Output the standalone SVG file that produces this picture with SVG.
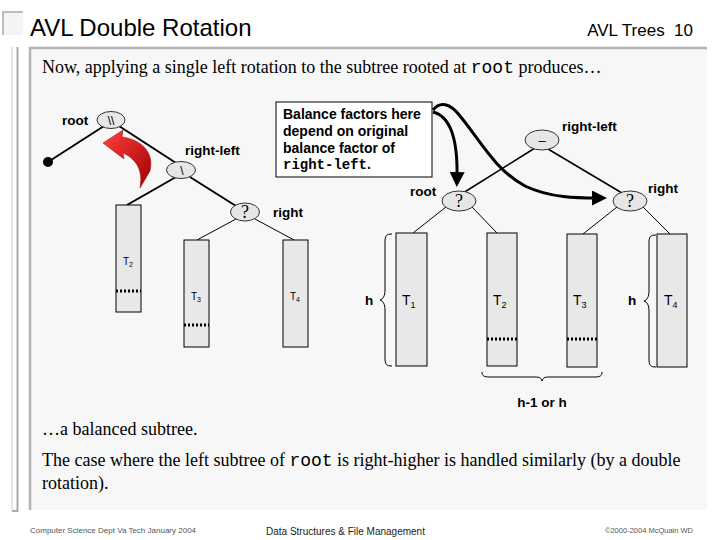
<svg xmlns="http://www.w3.org/2000/svg" width="720" height="540" viewBox="0 0 720 540">
<defs>
<style>
.lbl{font-family:"Liberation Sans",Arial,sans-serif;font-weight:bold;font-size:13.5px;fill:#000}
.call{font-family:"Liberation Sans",Arial,sans-serif;font-weight:bold;font-size:14px;fill:#000}
.serif{font-family:"Liberation Serif","Times New Roman",serif;font-size:18px;fill:#000}
.mono{font-family:"Liberation Mono","Courier New",monospace}
.node{fill:#e6e6e6;stroke:#333;stroke-width:1}
.sub{fill:#e8e8e8;stroke:#000;stroke-width:1}
.edge{stroke:#000;fill:none}
.dot{stroke:#000;stroke-width:3;stroke-dasharray:2,2}
.tl{font-family:"Liberation Sans",Arial,sans-serif;fill:#000}
.brace{stroke:#000;stroke-width:1;fill:none}
.foot{font-family:"Liberation Sans",Arial,sans-serif;fill:#555}
</style>
<marker id="ah" markerWidth="5" markerHeight="5" refX="2" refY="2.5" orient="auto" markerUnits="strokeWidth">
<path d="M0,0 L5,2.5 L0,5 Z" fill="#000"/>
</marker>
<linearGradient id="rg" x1="0" y1="0" x2="1" y2="1">
<stop offset="0" stop-color="#ff4040"/>
<stop offset="1" stop-color="#a00000"/>
</linearGradient>
</defs>
<rect width="720" height="540" fill="#fff"/>
<g id="frame">
<path d="M3,35 V12 H23" fill="none" stroke="#aaa" stroke-width="1.5"/>
<rect x="4" y="13" width="19" height="22" fill="#f4f4f4"/>
<line x1="12" y1="47" x2="12" y2="511" stroke="#ccc" stroke-width="1"/>
<path d="M17.5,47 V511 H12" fill="none" stroke="#aaa" stroke-width="2"/>
<rect x="30" y="48" width="677" height="462" fill="#f7f7f7"/>
<path d="M30,510 V48 H707" fill="none" stroke="#b4b4b4" stroke-width="2.5"/>
</g>
<text x="30" y="36" class="tl" font-size="24">AVL Double Rotation</text>
<text x="693" y="36" class="tl" font-size="17" text-anchor="end" xml:space="preserve">AVL Trees  10</text>
<text x="42" y="73" class="serif">Now, applying a single left rotation to the subtree rooted at <tspan class="mono">root</tspan> produces…</text>

<g id="connectors">
<line class="edge" stroke-width="2" x1="104" y1="126" x2="48" y2="162"/>
<line class="edge" stroke-width="2" x1="119" y1="126" x2="176" y2="163"/>
<line class="edge" stroke-width="2" x1="176" y1="177" x2="127" y2="205"/>
<line class="edge" stroke-width="2" x1="190" y1="177" x2="236" y2="206"/>
<line class="edge" stroke-width="1" x1="236" y1="219" x2="197" y2="240"/>
<line class="edge" stroke-width="1" x1="255" y1="219" x2="294" y2="240"/>
<line class="edge" stroke-width="1.5" x1="535" y1="148" x2="463" y2="193"/>
<line class="edge" stroke-width="1.5" x1="548" y1="149" x2="622" y2="193"/>
<line class="edge" stroke-width="1" x1="446" y1="207" x2="413" y2="233"/>
<line class="edge" stroke-width="1" x1="472" y1="207" x2="497" y2="233"/>
<line class="edge" stroke-width="1" x1="617" y1="207" x2="583" y2="234"/>
<line class="edge" stroke-width="1" x1="643" y1="207" x2="670" y2="234"/>
<path class="edge" stroke-width="3" marker-end="url(#ah)" d="M433,112 C449,116 458,136 457,178"/>
<path class="edge" stroke-width="3" marker-end="url(#ah)" d="M433,110 C440,101 450,103 460,116 C480,140 495,170 525,186 C550,198 578,198 598,198"/>
<path d="M103,143 L123,130 L122,137 C139,139 155,151 150,171 L140,188 C143,172 138,160 123,153 L124,159 Z" fill="url(#rg)" stroke="#900" stroke-width="0.5"/>
</g>

<g id="dot-left"><circle cx="48" cy="162" r="5" fill="#000"/></g>
<g id="root-left">
<ellipse class="node" cx="111" cy="120" rx="14" ry="8.5"/>
<text x="111" y="125" class="tl" font-size="12" text-anchor="middle">\\</text>
<text x="62" y="125" class="lbl">root</text>
</g>
<g id="rl-left">
<ellipse class="node" cx="181" cy="170" rx="14.5" ry="8.5"/>
<text x="182" y="175" class="tl" font-size="12" text-anchor="middle">\</text>
<text x="185" y="155" class="lbl">right-left</text>
</g>
<g id="right-left-tree">
<ellipse class="node" cx="245" cy="212" rx="14.5" ry="9"/>
<text x="245" y="218" class="serif" font-size="15" text-anchor="middle">?</text>
<text x="273" y="217" class="lbl">right</text>
</g>
<g id="T2-left">
<rect class="sub" x="116" y="205" width="25" height="107"/>
<line class="dot" x1="116" y1="291" x2="141" y2="291"/>
<text x="123" y="265" class="tl" font-size="10">T<tspan font-size="7" dy="2">2</tspan></text>
</g>
<g id="T3-left">
<rect class="sub" x="184" y="240" width="25" height="107"/>
<line class="dot" x1="184" y1="325" x2="209" y2="325"/>
<text x="191" y="300" class="tl" font-size="10">T<tspan font-size="7" dy="2">3</tspan></text>
</g>
<g id="T4-left">
<rect class="sub" x="283" y="240" width="25" height="107"/>
<text x="290" y="300" class="tl" font-size="10">T<tspan font-size="7" dy="2">4</tspan></text>
</g>

<g id="callout">
<rect x="276" y="102" width="156" height="75" fill="#fff" stroke="#000" stroke-width="1"/>
<text x="283" y="119" class="call">Balance factors here</text>
<text x="283" y="136" class="call">depend on original</text>
<text x="283" y="153" class="call">balance factor of</text>
<text x="283" y="169" class="call mono">right-left<tspan font-family="Liberation Sans, Arial, sans-serif">.</tspan></text>
</g>

<g id="rl-right">
<ellipse class="node" cx="542" cy="140" rx="17" ry="10"/>
<text x="542" y="145" class="tl" font-size="13" text-anchor="middle">–</text>
<text x="562" y="131" class="lbl">right-left</text>
</g>
<g id="root-right">
<ellipse class="node" cx="459" cy="201" rx="17" ry="10"/>
<text x="459" y="207" class="serif" font-size="15" text-anchor="middle">?</text>
<text x="410" y="196" class="lbl">root</text>
</g>
<g id="right-right">
<ellipse class="node" cx="630" cy="201" rx="17" ry="10"/>
<text x="630" y="207" class="serif" font-size="15" text-anchor="middle">?</text>
<text x="648" y="193" class="lbl">right</text>
</g>
<g id="T1">
<rect class="sub" x="396" y="233" width="31" height="133"/>
<text x="402" y="305" class="tl" font-size="14">T<tspan font-size="9" dy="3">1</tspan></text>
</g>
<g id="T2">
<rect class="sub" x="487" y="233" width="30" height="133"/>
<line class="dot" x1="487" y1="339" x2="517" y2="339"/>
<text x="493" y="305" class="tl" font-size="14">T<tspan font-size="9" dy="3">2</tspan></text>
</g>
<g id="T3">
<rect class="sub" x="567" y="234" width="30" height="133"/>
<line class="dot" x1="567" y1="339" x2="597" y2="339"/>
<text x="573" y="305" class="tl" font-size="14">T<tspan font-size="9" dy="3">3</tspan></text>
</g>
<g id="T4">
<rect class="sub" x="657" y="234" width="30" height="133"/>
<text x="664" y="305" class="tl" font-size="14">T<tspan font-size="9" dy="3">4</tspan></text>
</g>
<g id="braces">
<path class="brace" d="M392,234 C386,234 385,236 385,242 L385,290 C385,296 383,299 380,300 C383,301 385,304 385,310 L385,358 C385,364 386,366 392,366"/>
<text x="365" y="305" class="lbl">h</text>
<path class="brace" d="M656,235 C650,235 649,237 649,243 L649,291 C649,297 647,300 644,301 C647,302 649,305 649,311 L649,359 C649,365 650,367 656,367"/>
<text x="628" y="305" class="lbl">h</text>
<path class="brace" d="M482,372 C482,376 484,377 490,377 L535,377 C540,377 541,378 542,381 C543,378 544,377 549,377 L594,377 C600,377 602,376 602,372"/>
<text x="542" y="407" class="lbl" text-anchor="middle">h-1 or h</text>
</g>

<text x="42" y="435" class="serif">…a balanced subtree.</text>
<text x="42" y="466" class="serif">The case where the left subtree of <tspan class="mono">root</tspan> is right-higher is handled similarly (by a double</text>
<text x="42" y="489" class="serif">rotation).</text>

<text x="30" y="533" class="foot" font-size="8">Computer Science Dept Va Tech January 2004</text>
<text x="266" y="535" class="foot" font-size="10" style="fill:#222">Data Structures &amp; File Management</text>
<text x="693" y="533" class="foot" font-size="7.5" text-anchor="end">©2000-2004 McQuain WD</text>
</svg>
